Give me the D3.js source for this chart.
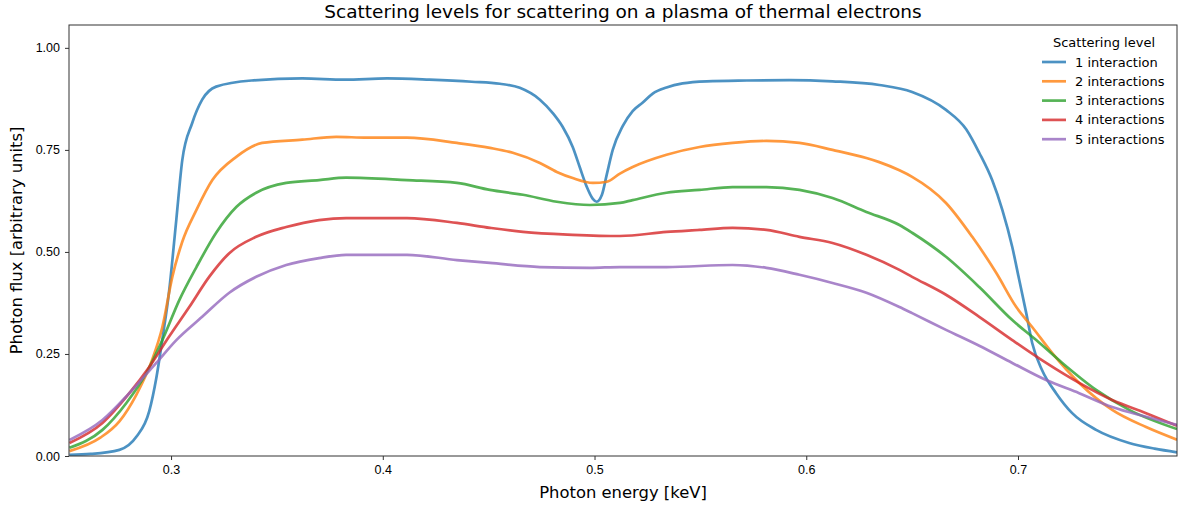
<!DOCTYPE html>
<html>
<head>
<meta charset="utf-8">
<script src="https://cdn.jsdelivr.net/npm/d3@7"></script>
<style>
  body { margin: 0; background: #fff; }
  svg { font-family: "DejaVu Sans", sans-serif; }
</style>
</head>
<body>
<div id="chart"></div>
<script>
// Values, [energy keV, flux]
const level1 = [[0.252,0.003],[0.262,0.005],[0.2756,0.015],[0.2836,0.047],[0.2897,0.11],[0.293,0.19],[0.296,0.29],[0.299,0.40],[0.3025,0.58],[0.3053,0.725],[0.31,0.816],[0.3147,0.873],[0.3213,0.905],[0.338,0.92],[0.362,0.925],[0.382,0.922],[0.402,0.925],[0.422,0.922],[0.442,0.917],[0.4553,0.912],[0.4647,0.902],[0.4742,0.873],[0.4803,0.84],[0.485,0.806],[0.4897,0.757],[0.493,0.708],[0.4963,0.66],[0.4992,0.63],[0.501,0.623],[0.5035,0.64],[0.5058,0.69],[0.5086,0.75],[0.5133,0.808],[0.518,0.845],[0.5228,0.866],[0.5275,0.888],[0.534,0.903],[0.5416,0.913],[0.553,0.918],[0.572,0.92],[0.592,0.921],[0.6124,0.918],[0.6345,0.909],[0.65,0.892],[0.666,0.848],[0.6756,0.80],[0.6817,0.743],[0.6878,0.676],[0.6926,0.603],[0.6973,0.512],[0.7006,0.431],[0.7039,0.35],[0.7067,0.277],[0.7114,0.21],[0.718,0.154],[0.7256,0.105],[0.7369,0.064],[0.7525,0.032],[0.7645,0.018],[0.7751,0.009]];
const level2 = [[0.252,0.012],[0.2666,0.045],[0.2756,0.085],[0.2836,0.15],[0.291,0.235],[0.2959,0.316],[0.3006,0.439],[0.3053,0.525],[0.312,0.603],[0.3195,0.676],[0.3308,0.733],[0.343,0.767],[0.362,0.775],[0.378,0.782],[0.3925,0.78],[0.4114,0.78],[0.435,0.767],[0.4506,0.755],[0.4614,0.743],[0.4742,0.718],[0.4822,0.696],[0.4897,0.681],[0.4992,0.669],[0.5058,0.672],[0.512,0.692],[0.518,0.708],[0.534,0.738],[0.5496,0.757],[0.5652,0.767],[0.5812,0.772],[0.5968,0.767],[0.6124,0.75],[0.6284,0.73],[0.6345,0.72],[0.644,0.70],[0.65,0.684],[0.666,0.62],[0.6784,0.537],[0.6897,0.449],[0.6992,0.365],[0.7067,0.316],[0.7162,0.252],[0.7289,0.179],[0.7445,0.113],[0.7605,0.071],[0.7751,0.040]];
const level3 = [[0.252,0.02],[0.2676,0.064],[0.2789,0.13],[0.2883,0.203],[0.2959,0.284],[0.3039,0.382],[0.312,0.463],[0.3213,0.547],[0.3308,0.61],[0.3402,0.645],[0.3544,0.669],[0.3699,0.676],[0.3827,0.682],[0.4114,0.676],[0.435,0.669],[0.4506,0.652],[0.4662,0.64],[0.4822,0.623],[0.4978,0.615],[0.512,0.62],[0.518,0.627],[0.534,0.645],[0.5496,0.652],[0.5652,0.659],[0.5812,0.659],[0.5968,0.652],[0.6124,0.632],[0.6284,0.598],[0.644,0.566],[0.65,0.547],[0.666,0.488],[0.6817,0.414],[0.6973,0.333],[0.7086,0.284],[0.7209,0.228],[0.7369,0.162],[0.7525,0.113],[0.7751,0.066]];
const level4 = [[0.252,0.032],[0.2676,0.081],[0.2803,0.154],[0.2897,0.218],[0.299,0.292],[0.3086,0.365],[0.318,0.439],[0.3275,0.497],[0.3402,0.537],[0.3544,0.561],[0.3699,0.578],[0.3827,0.583],[0.4114,0.583],[0.435,0.571],[0.4506,0.559],[0.4662,0.549],[0.4897,0.542],[0.512,0.539],[0.534,0.549],[0.5496,0.554],[0.5652,0.559],[0.5812,0.554],[0.5968,0.537],[0.6124,0.522],[0.6284,0.493],[0.644,0.456],[0.65,0.439],[0.666,0.395],[0.6817,0.341],[0.6973,0.284],[0.7133,0.228],[0.7289,0.179],[0.7445,0.137],[0.7605,0.105],[0.7751,0.074]];
const level5 = [[0.252,0.039],[0.2676,0.088],[0.2803,0.154],[0.293,0.228],[0.3025,0.284],[0.3147,0.341],[0.3275,0.40],[0.3402,0.439],[0.3544,0.468],[0.3699,0.485],[0.3827,0.493],[0.4114,0.493],[0.435,0.48],[0.4506,0.473],[0.4742,0.463],[0.4978,0.461],[0.512,0.463],[0.534,0.463],[0.5652,0.468],[0.5812,0.461],[0.5968,0.444],[0.6124,0.424],[0.6284,0.40],[0.644,0.365],[0.65,0.35],[0.666,0.309],[0.6817,0.27],[0.6973,0.228],[0.7133,0.186],[0.7289,0.154],[0.7445,0.12],[0.7605,0.096],[0.7751,0.076]];

const labels = ["1 interaction", "2 interactions", "3 interactions", "4 interactions", "5 interactions"];
const colors = ["#1f77b4", "#ff7f0e", "#2ca02c", "#d62728", "#9467bd"];
const xTicks = [0.3, 0.4, 0.5, 0.6, 0.7];
const yTicks = [0, 0.25, 0.5, 0.75, 1.0];
const series = [level1, level2, level3, level4, level5];

// Layout
const W = 1178, H = 506;
const margin = { top: 25, right: 1, bottom: 50, left: 69 };
const width = W - margin.left - margin.right,
      height = H - margin.top - margin.bottom;

const svg = d3.select("#chart").append("svg")
    .attr("width", W)
    .attr("height", H);

const g = svg.append("g")
    .attr("transform", `translate(${margin.left},${margin.top})`);

const x = d3.scaleLinear().domain([0.2518, 0.7751]).range([0, width]);
const y = d3.scaleLinear().domain([0, 1.056]).range([height, 0]);

svg.append("defs").append("clipPath").attr("id", "clip")
  .append("rect").attr("width", width).attr("height", height);

// lines
const line = d3.line()
    .x(d => x(d[0]))
    .y(d => y(d[1]))
    .curve(d3.curveMonotoneX);

g.append("g").attr("clip-path", "url(#clip)")
  .selectAll("path")
  .data(series)
  .join("path")
    .attr("d", line)
    .attr("fill", "none")
    .attr("stroke", (d, i) => colors[i])
    .attr("stroke-opacity", 0.8)
    .attr("stroke-width", 2.7)
    .attr("stroke-linejoin", "round");

// axes
const xAxis = g.append("g")
    .attr("transform", `translate(0,${height})`)
    .call(d3.axisBottom(x).tickValues(xTicks).tickFormat(d3.format(".1f")).tickSizeOuter(0).tickSize(4).tickPadding(5));
const yAxis = g.append("g")
    .call(d3.axisLeft(y).tickValues(yTicks).tickFormat(d3.format(".2f")).tickSizeOuter(0).tickSize(4).tickPadding(5));

[xAxis, yAxis].forEach(a => {
  a.selectAll("text").style("font-size", "12.5px").attr("fill", "#000");
  a.selectAll("line").attr("stroke", "#333");
  a.select(".domain").remove();
});

// frame
g.append("rect")
    .attr("width", width)
    .attr("height", height)
    .attr("fill", "none")
    .attr("stroke", "#333")
    .attr("stroke-width", 1);

// title + axis labels
svg.append("text")
    .attr("x", margin.left + width / 2)
    .attr("y", 18)
    .attr("text-anchor", "middle")
    .style("font-size", "18.5px")
    .text("Scattering levels for scattering on a plasma of thermal electrons");

svg.append("text")
    .attr("x", margin.left + width / 2)
    .attr("y", 498)
    .attr("text-anchor", "middle")
    .style("font-size", "16.4px")
    .text("Photon energy [keV]");

svg.append("text")
    .attr("transform", `translate(22,${margin.top + height / 2}) rotate(-90)`)
    .attr("text-anchor", "middle")
    .style("font-size", "16.4px")
    .text("Photon flux [arbitrary units]");

// legend
const legend = svg.append("g");
legend.append("text")
    .attr("x", 1104)
    .attr("y", 47)
    .attr("text-anchor", "middle")
    .style("font-size", "13px")
    .text("Scattering level");

const item = legend.selectAll(".item")
  .data(labels)
  .join("g")
    .attr("class", "item")
    .attr("transform", (d, i) => `translate(0,${62 + i * 19.3})`);

item.append("line")
    .attr("x1", 1042).attr("x2", 1066)
    .attr("stroke", (d, i) => colors[i])
    .attr("stroke-opacity", 0.8)
    .attr("stroke-width", 2.7);

item.append("text")
    .attr("x", 1075)
    .attr("dy", "0.35em")
    .style("font-size", "13px")
    .text(d => d);
</script>
</body>
</html>
